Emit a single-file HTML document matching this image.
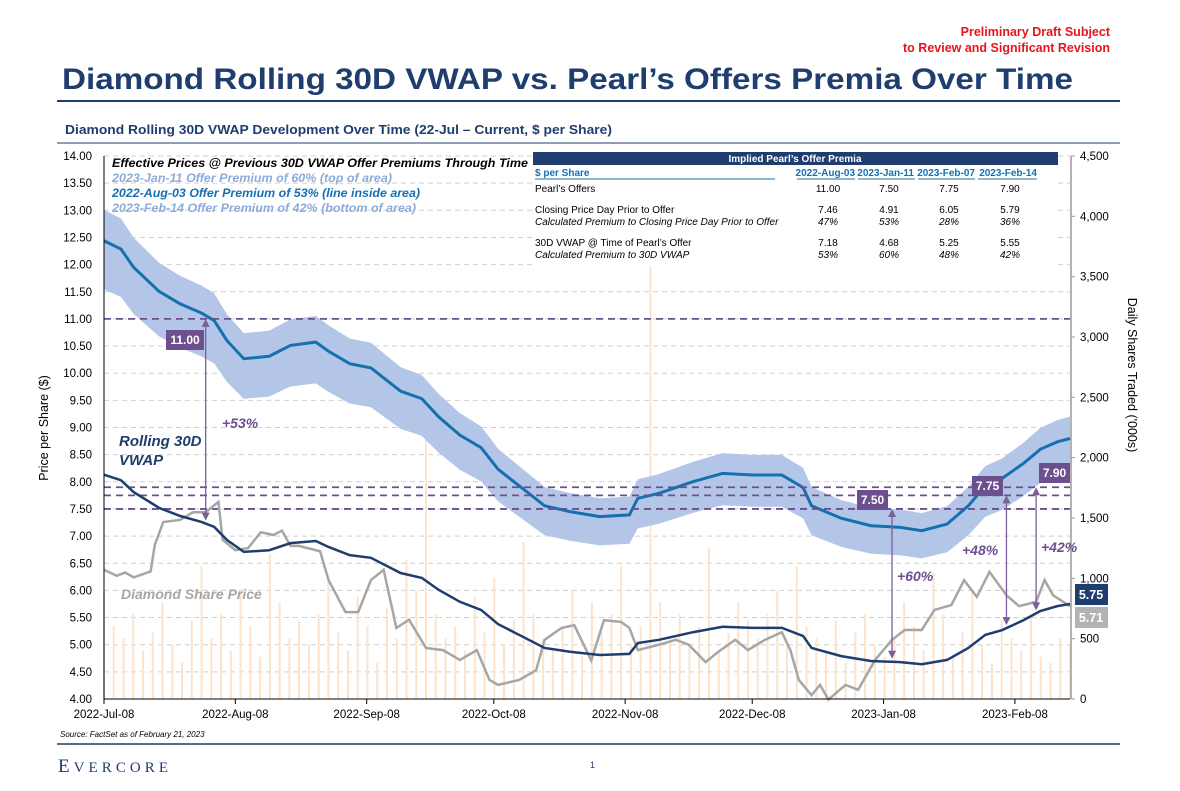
<!DOCTYPE html>
<html><head><meta charset="utf-8"><style>
body{margin:0;background:#fff;font-family:"Liberation Sans",Arial,sans-serif}
svg text{font-family:"Liberation Sans",Arial,sans-serif}
</style></head><body>
<svg id="c" width="1180" height="786" viewBox="0 0 1180 786" xmlns="http://www.w3.org/2000/svg">
<text x="1110" y="36" text-anchor="end" font-size="12.5" font-weight="bold" fill="#e8141b">Preliminary Draft Subject</text>
<text x="1110" y="52" text-anchor="end" font-size="12.5" font-weight="bold" fill="#e8141b">to Review and Significant Revision</text>
<text x="62" y="89" font-size="30" style="font-weight:700" textLength="1011" lengthAdjust="spacingAndGlyphs" fill="#1f3d6e">Diamond Rolling 30D VWAP vs. Pearl’s Offers Premia Over Time</text>
<line x1="57" y1="101" x2="1120" y2="101" stroke="#1f3d6e" stroke-width="2"/>
<text x="65" y="134" font-size="12.5" style="font-weight:700" textLength="547" lengthAdjust="spacingAndGlyphs" fill="#1f3d6e">Diamond Rolling 30D VWAP Development Over Time (22-Jul – Current, $ per Share)</text>
<line x1="57" y1="143" x2="1120" y2="143" stroke="#1f3d6e" stroke-width="1"/>
<g id="grid"></g><g id="bars"></g><g id="band"></g><g id="lines"></g><g id="axes"></g><g id="annot"></g>
<g font-size="12" font-style="italic" font-weight="bold">
<text x="112" y="167" fill="#000" textLength="416" lengthAdjust="spacingAndGlyphs">Effective Prices @ Previous 30D VWAP Offer Premiums Through Time</text>
<text x="112" y="182" fill="#8eaadb" textLength="280" lengthAdjust="spacingAndGlyphs">2023-Jan-11 Offer Premium of 60% (top of area)</text>
<text x="112" y="197" fill="#1570b0" textLength="308" lengthAdjust="spacingAndGlyphs">2022-Aug-03 Offer Premium of 53% (line inside area)</text>
<text x="112" y="212" fill="#8eaadb" textLength="304" lengthAdjust="spacingAndGlyphs">2023-Feb-14 Offer Premium of 42% (bottom of area)</text>
</g>
<g font-size="10">
<rect x="533" y="152" width="525" height="115" fill="#fff"/>
<rect x="533" y="152" width="525" height="13" fill="#1f3d6e"/>
<text x="795" y="162" text-anchor="middle" fill="#fff" font-weight="bold">Implied Pearl’s Offer Premia</text>
<g font-weight="bold" fill="#1570b0"><text x="535" y="176">$ per Share</text><text x="855" y="176" text-anchor="end">2022-Aug-03</text><text x="914" y="176" text-anchor="end">2023-Jan-11</text><text x="975" y="176" text-anchor="end">2023-Feb-07</text><text x="1037" y="176" text-anchor="end">2023-Feb-14</text></g>
<g stroke="#1570b0"><line x1="535" y1="179" x2="775" y2="179"/><line x1="797" y1="179" x2="855" y2="179"/><line x1="858" y1="179" x2="915" y2="179"/><line x1="918" y1="179" x2="975" y2="179"/><line x1="978" y1="179" x2="1037" y2="179"/></g>
<g fill="#000"><text x="535" y="192">Pearl’s Offers</text><text x="535" y="213">Closing Price Day Prior to Offer</text><text x="535" y="225" font-style="italic">Calculated Premium to Closing Price Day Prior to Offer</text><text x="535" y="246">30D VWAP @ Time of Pearl’s Offer</text><text x="535" y="258" font-style="italic">Calculated Premium to 30D VWAP</text></g>
<g fill="#000" text-anchor="middle">
<text x="828" y="192">11.00</text><text x="889" y="192">7.50</text><text x="949" y="192">7.75</text><text x="1010" y="192">7.90</text>
<text x="828" y="213">7.46</text><text x="889" y="213">4.91</text><text x="949" y="213">6.05</text><text x="1010" y="213">5.79</text>
<g font-style="italic"><text x="828" y="225">47%</text><text x="889" y="225">53%</text><text x="949" y="225">28%</text><text x="1010" y="225">36%</text></g>
<text x="828" y="246">7.18</text><text x="889" y="246">4.68</text><text x="949" y="246">5.25</text><text x="1010" y="246">5.55</text>
<g font-style="italic"><text x="828" y="258">53%</text><text x="889" y="258">60%</text><text x="949" y="258">48%</text><text x="1010" y="258">42%</text></g>
</g></g>
<text x="60" y="737" font-size="8" font-style="italic" fill="#000">Source: FactSet as of February 21, 2023</text>
<line x1="57" y1="744" x2="1120" y2="744" stroke="#1f3d6e" stroke-width="1.5"/>
<text x="58" y="772" font-size="19" fill="#1f3d6e" textLength="110" lengthAdjust="spacing" style="font-family:'Liberation Serif',serif">E<tspan font-size="15">VERCORE</tspan></text>
<text x="590" y="768" font-size="9" fill="#1f3d6e">1</text>
</svg>
<script>
const vwapDays=[0,4,7,13,18,23,26,29,33,39,44,50,53,58,63,70,75,79,84,89,93,98,104,110,117,124,126,131,139,146,153,160,165,167,174,181,188,193,199,204,208,212,217,221,225,228];
const vwapValues=[8.13,8.03,7.81,7.52,7.37,7.26,7.17,6.93,6.71,6.74,6.87,6.91,6.80,6.65,6.60,6.32,6.23,6.01,5.79,5.64,5.38,5.18,4.94,4.87,4.81,4.83,5.03,5.09,5.23,5.33,5.31,5.31,5.16,4.94,4.79,4.70,4.68,4.64,4.72,4.94,5.18,5.27,5.45,5.62,5.71,5.75];
const priceDays=[0,3,5,7,11,12,14,18,21,24,27,28,31,34,37,40,42,44,46,51,53,57,60,63,66,69,72,76,80,84,88,91,93,98,102,104,108,111,115,118,122,124,126,131,135,138,142,145,149,152,156,160,162,164,167,169,171,175,178,182,186,189,193,196,200,203,206,209,213,216,220,222,224,228];
const priceValues=[6.38,6.27,6.33,6.24,6.35,6.84,7.26,7.30,7.44,7.44,7.63,6.93,6.74,6.78,7.07,7.02,7.10,6.82,6.82,6.72,6.19,5.60,5.60,6.19,6.38,5.31,5.46,4.94,4.90,4.72,4.90,4.35,4.26,4.35,4.53,5.09,5.31,5.36,4.71,5.45,5.42,5.31,4.90,5.00,5.09,5.00,4.68,4.87,5.09,4.90,5.09,5.23,4.90,4.35,4.07,4.26,3.99,4.26,4.17,4.72,5.09,5.27,5.27,5.64,5.73,6.19,5.88,6.34,5.91,5.71,5.79,6.19,5.91,5.71];
const volumeValues=[900,600,500,700,400,550,800,450,300,650,1100,500,700,400,900,600,350,1200,800,500,650,450,700,1000,550,400,850,600,300,750,500,1150,900,2150,700,500,600,400,850,550,1000,450,650,1300,700,500,400,600,900,350,800,550,700,1100,450,600,3600,800,500,700,450,600,1250,400,550,800,650,500,700,900,450,1100,600,500,400,650,300,550,700,450,350,500,800,600,400,1050,700,350,550,900,450,300,650,500,400,700,350,300,500,450];
const premiumTop=1.60, premiumMid=1.53, premiumBot=1.42;
const offerLevels=[11.00,7.90,7.75,7.50];
const yTicks=[4,4.5,5,5.5,6,6.5,7,7.5,8,8.5,9,9.5,10,10.5,11,11.5,12,12.5,13,13.5,14];
const y2Ticks=[0,500,1000,1500,2000,2500,3000,3500,4000,4500];
const xTickDays=[0,31,62,92,123,153,184,215];
const xTickLabels=['2022-Jul-08','2022-Aug-08','2022-Sep-08','2022-Oct-08','2022-Nov-08','2022-Dec-08','2023-Jan-08','2023-Feb-08'];
const offerDays=[24,186,213,220];
const offerPct=['+53%','+60%','+48%','+42%'];
const offerVals=[11.00,7.50,7.75,7.90];

const X0=104,X1=1070,Y0=699,Y1=156,DMAX=228;
const xs=d=>X0+(d/DMAX)*(X1-X0);
const ys=v=>Y0-(v-4)/10*(Y0-Y1);
const y2s=v=>Y0-v/4500*(Y0-Y1);
const NS='http://www.w3.org/2000/svg';
function mk(tag,parent,attrs){const e=document.createElementNS(NS,tag);for(const k in attrs)e.setAttribute(k,attrs[k]);document.getElementById(parent).appendChild(e);return e;}
function interp(days,vals,d){for(let i=0;i<days.length-1;i++){if(d>=days[i]&&d<=days[i+1]){const t=(d-days[i])/(days[i+1]-days[i]||1);return vals[i]+t*(vals[i+1]-vals[i]);}}return vals[vals.length-1];}

yTicks.forEach(v=>{
  if(v>4){const g=mk('line','grid',{x1:X0,x2:X1,y1:ys(v),y2:ys(v),stroke:'#d0d0d0','stroke-dasharray':'5,4'});
  
  }
  const t=mk('text','axes',{x:92,y:ys(v)+4,'text-anchor':'end','font-size':'11.5',fill:'#000'});
  t.textContent=v.toFixed(2);
  
  
});
y2Ticks.forEach(v=>{
  const t=mk('text','axes',{x:1080,y:y2s(v)+4,'font-size':'11.5',fill:'#000'});
  t.textContent=v.toLocaleString('en-US');
  
  
  const tk=mk('line','axes',{x1:1071,x2:1075,y1:y2s(v),y2:y2s(v),stroke:'#999'});
  
  
});
xTickDays.forEach((d,i)=>{
  const t=mk('text','axes',{x:xs(d),y:718,'text-anchor':'middle','font-size':'11.5',fill:'#000'});
  t.textContent=xTickLabels[i];
  
  
  const tk=mk('line','axes',{x1:xs(d),x2:xs(d),y1:Y0,y2:Y0+5,stroke:'#000'});
  
  
});
let a=mk('line','axes',{x1:X0,x2:X1,y1:Y0,y2:Y0,stroke:'#000'});


a=mk('line','axes',{x1:X0,x2:X0,y1:Y1,y2:Y0,stroke:'#000'});


a=mk('line','axes',{x1:1071,x2:1071,y1:Y1,y2:Y0,stroke:'#999',"stroke-width":1.5});


a=mk('text','axes',{transform:'translate(48,428) rotate(-90)','text-anchor':'middle','font-size':'12.5',fill:'#000'});
a.textContent='Price per Share ($)';


a=mk('text','axes',{transform:'translate(1128,375) rotate(90)','text-anchor':'middle','font-size':'12.5',fill:'#000'});
a.textContent='Daily Shares Traded (\'000s)';



volumeValues.forEach((v,i)=>{
  const x=xs(i*DMAX/(volumeValues.length-1));
  const b=mk('rect','bars',{x:x-1,y:y2s(v),width:2,height:Y0-y2s(v),fill:'#fbe3cc'});
  
  
});

const bandTop=[],bandBot=[];
vwapDays.forEach((d,i)=>{bandTop.push(xs(d)+','+ys(vwapValues[i]*premiumTop));bandBot.unshift(xs(d)+','+ys(vwapValues[i]*premiumBot));});
a=mk('polygon','band',{points:bandTop.concat(bandBot).join(' '),fill:'#b4c6e7'});


a=mk('polyline','lines',{points:vwapDays.map((d,i)=>xs(d)+','+ys(vwapValues[i]*premiumMid)).join(' '),fill:'none',stroke:'#1570b0','stroke-width':3});



offerLevels.forEach(v=>{
  const l=mk('line','lines',{x1:X0,x2:X1,y1:ys(v),y2:ys(v),stroke:'#6b4f8f','stroke-width':1.8,'stroke-dasharray':'7,5'});
  
  
});

a=mk('polyline','lines',{points:priceDays.map((d,i)=>xs(d)+','+ys(priceValues[i])).join(' '),fill:'none',stroke:'#a6a6a6','stroke-width':2.5});


a=mk('polyline','lines',{points:vwapDays.map((d,i)=>xs(d)+','+ys(vwapValues[i])).join(' '),fill:'none',stroke:'#1f3d6e','stroke-width':2.5});



const pctPos=[[222,428],[897,581],[962,555],[1041,552]];
const boxPos=[[166,330],[857,490],[972,476],[1039,463]];
offerDays.forEach((d,i)=>{
  const x=xs(d), yT=ys(offerVals[i]), yB=ys(interp(vwapDays,vwapValues,d))-3;
  const l=mk('line','annot',{x1:x,x2:x,y1:yT+6,y2:yB-6,stroke:'#7a5f9a','stroke-width':1.3});
  
  
  const h1=mk('polygon','annot',{points:`${x},${yT} ${x-4},${yT+8} ${x+4},${yT+8}`,fill:'#7a5f9a'});
  
  
  const h2=mk('polygon','annot',{points:`${x},${yB} ${x-4},${yB-8} ${x+4},${yB-8}`,fill:'#7a5f9a'});
  
  
  const t=mk('text','annot',{x:pctPos[i][0],y:pctPos[i][1],'font-size':'14','font-weight':'bold','font-style':'italic',fill:'#6b4f8f'});
  t.textContent=offerPct[i];
  
  
  const w=i==0?38:31;
  const r=mk('rect','annot',{x:boxPos[i][0],y:boxPos[i][1],width:w,height:20,fill:'#6b4f8f'});
  
  
  const tt=mk('text','annot',{x:boxPos[i][0]+w/2,y:boxPos[i][1]+14,'text-anchor':'middle','font-size':'12','font-weight':'bold',fill:'#fff'});
  tt.textContent=offerVals[i].toFixed(2);
  
  
});
const lv=vwapValues[vwapValues.length-1], lp=priceValues[priceValues.length-1];
a=mk('rect','annot',{x:1075,y:584,width:33,height:21,fill:'#1f3d6e'});


a=mk('text','annot',{x:1091,y:599,'text-anchor':'middle','font-size':'12.5','font-weight':'bold',fill:'#fff'});
a.textContent=lv.toFixed(2);


a=mk('rect','annot',{x:1075,y:607,width:33,height:21,fill:'#b3b3b3'});


a=mk('text','annot',{x:1091,y:622,'text-anchor':'middle','font-size':'12.5','font-weight':'bold',fill:'#fff'});
a.textContent=lp.toFixed(2);


a=mk('text','annot',{x:119,y:446,'font-size':'15','font-weight':'bold','font-style':'italic',fill:'#1f3d6e'});
a.textContent='Rolling 30D';


a=mk('text','annot',{x:119,y:465,'font-size':'15','font-weight':'bold','font-style':'italic',fill:'#1f3d6e'});
a.textContent='VWAP';


a=mk('text','annot',{x:121,y:599,'font-size':'14','font-weight':'bold','font-style':'italic',fill:'#a6a6a6'});
a.textContent='Diamond Share Price';


</script>
</body></html>
